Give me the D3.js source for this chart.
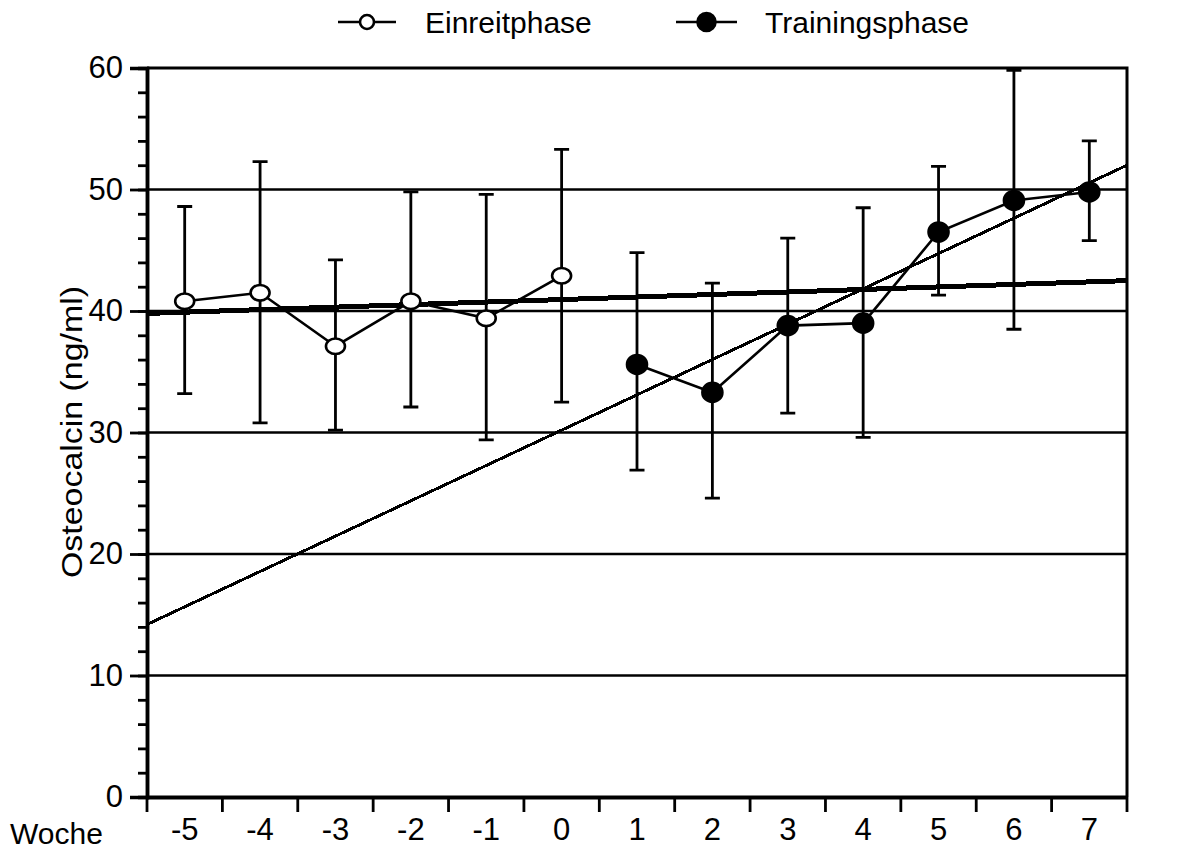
<!DOCTYPE html>
<html>
<head>
<meta charset="utf-8">
<script src="https://cdn.jsdelivr.net/npm/d3@7"></script>
<style>
body{margin:0;background:#fff;}
svg{font-family:"Liberation Sans",Arial,sans-serif;}
</style>
</head>
<body>
<svg id="chart"></svg>
<script>
// weeks on the x axis
var weeks = [-5,-4,-3,-2,-1,0,1,2,3,4,5,6,7]

// Einreitphase (weeks -5..0)
var einWeeks = [-5,-4,-3,-2,-1,0]
var einMean  = [40.8,41.5,37.1,40.8,39.4,42.9]
var einHigh  = [48.6,52.3,44.2,49.8,49.6,53.3]
var einLow   = [33.2,30.8,30.2,32.1,29.4,32.5]

// Trainingsphase (weeks 1..7)
var trWeeks = [1,2,3,4,5,6,7]
var trMean  = [35.6,33.3,38.8,39.0,46.5,49.1,49.8]
var trHigh  = [44.8,42.3,46.0,48.5,51.9,59.8,54.0]
var trLow   = [26.9,24.6,31.6,29.6,41.3,38.5,45.8]

// regression lines, end points (week, value)
var trendSteep = [[-5.5,14.2],[7.5,52.0]]
var trendFlat  = [[-5.5,39.8],[7.5,42.5]]

var yTicks = [0,10,20,30,40,50,60]
var gridValues = [10,20,30,40,50]

var screen = {width:1188,height:850}
var margins = {left:147,right:61,top:68,bottom:53}
var graph = {
    width:screen.width-margins.left-margins.right,
    height:screen.height-margins.top-margins.bottom
}

var svg = d3.select("#chart")
    .attr("width",screen.width)
    .attr("height",screen.height)

var xScale = d3.scaleBand()
    .domain(weeks)
    .range([0,graph.width])
    .padding(0)

var xLin = d3.scaleLinear()
    .domain([-5.5,7.5])
    .range([0,graph.width])

var yScale = d3.scaleLinear()
    .domain([0,60])
    .range([graph.height,0])

var target = svg.append("g")
    .attr("transform","translate("+margins.left+","+margins.top+")")

// grid lines
target.selectAll(".grid")
    .data(gridValues)
    .enter()
    .append("line")
    .attr("x1",0)
    .attr("x2",graph.width)
    .attr("y1",function(d){return yScale(d)})
    .attr("y2",function(d){return yScale(d)})
    .attr("stroke","#000")
    .attr("stroke-width",2.5)

// frame top + right
target.append("path")
    .attr("d","M0,"+yScale(60)+"H"+graph.width+"V"+graph.height)
    .attr("fill","none")
    .attr("stroke","#000")
    .attr("stroke-width",3)

// regression lines
var trendLine = d3.line()
    .x(function(d){return xLin(d[0])})
    .y(function(d){return yScale(d[1])})

target.append("path")
    .attr("d",trendLine(trendSteep))
    .attr("fill","none")
    .attr("stroke","#000")
    .attr("stroke-width",3)
    .attr("shape-rendering","crispEdges")

target.append("path")
    .attr("d",trendLine(trendFlat))
    .attr("fill","none")
    .attr("stroke","#000")
    .attr("stroke-width",5)
    .attr("shape-rendering","crispEdges")

var drawSeries = function(ws,mean,high,low,fill,rx,ry){
    var pts = ws.map(function(w,i){
        return {x:xScale(w)+xScale.bandwidth()/2,m:mean[i],h:high[i],l:low[i]}
    })
    var g = target.append("g")
    // error bars
    g.selectAll(".err")
        .data(pts)
        .enter()
        .append("path")
        .attr("d",function(p){
            return "M"+p.x+","+yScale(p.h)+"V"+yScale(p.l)+
                "M"+(p.x-7.5)+","+yScale(p.h)+"H"+(p.x+7.5)+
                "M"+(p.x-7.5)+","+yScale(p.l)+"H"+(p.x+7.5)
        })
        .attr("stroke","#000")
        .attr("stroke-width",2.8)
        .attr("fill","none")
    g.append("path")
        .attr("d",d3.line().x(function(p){return p.x}).y(function(p){return yScale(p.m)})(pts))
        .attr("stroke","#000")
        .attr("stroke-width",2.6)
        .attr("fill","none")
    g.selectAll("ellipse")
        .data(pts)
        .enter()
        .append("ellipse")
        .attr("cx",function(p){return p.x})
        .attr("cy",function(p){return yScale(p.m)})
        .attr("rx",rx)
        .attr("ry",ry)
        .attr("fill",fill)
        .attr("stroke","#000")
        .attr("stroke-width",2.6)
}

drawSeries(einWeeks,einMean,einHigh,einLow,"#fff",9.5,7.8)
drawSeries(trWeeks,trMean,trHigh,trLow,"#000",10,9.5)

// y axis: minor + major ticks
var yMinor = d3.axisLeft(yScale)
    .tickValues(d3.range(0,61,2))
    .tickSize(9)
    .tickFormat("")
var yMajor = d3.axisLeft(yScale)
    .tickValues(yTicks)
    .tickSize(17)
    .tickPadding(7)

var yAx = svg.append("g")
    .attr("transform","translate("+margins.left+","+margins.top+")")
yAx.append("g").call(yMinor)
yAx.append("g").call(yMajor)
yAx.selectAll(".domain").attr("stroke-width",3.5)
yAx.selectAll(".tick line").attr("stroke-width",2.8)
yAx.selectAll("text").attr("font-size",31).attr("fill","#000")
    .attr("font-family","Liberation Sans, Arial, sans-serif")

// x axis: labels at band centres, ticks at band edges
var xAxis = d3.axisBottom(xScale)
    .tickSize(0)
    .tickPadding(21)
    .tickFormat(function(d){return d})
var xAx = svg.append("g")
    .attr("transform","translate("+margins.left+","+(margins.top+graph.height)+")")
    .call(xAxis)
xAx.select(".domain").attr("stroke-width",4)
xAx.selectAll("text").attr("font-size",31).attr("fill","#000")
    .attr("font-family","Liberation Sans, Arial, sans-serif")

var edges = weeks.map(function(w){return xScale(w)}).concat([graph.width])
xAx.selectAll(".edge")
    .data(edges)
    .enter()
    .append("line")
    .attr("x1",function(d){return d})
    .attr("x2",function(d){return d})
    .attr("y1",0)
    .attr("y2",15)
    .attr("stroke","#000")
    .attr("stroke-width",2.8)

// labels
svg.append("text")
    .text("Woche")
    .attr("x",10)
    .attr("y",844)
    .attr("font-size",30)

svg.append("g")
    .attr("transform","translate(82,432)")
    .append("text")
    .text("Osteocalcin (ng/ml)")
    .attr("text-anchor","middle")
    .attr("transform","rotate(-90)")
    .attr("font-size",29)
    .attr("textLength",292)
    .attr("lengthAdjust","spacingAndGlyphs")

// legend
var legendItems = [
    {name:"Einreitphase",fill:"#fff",x:338,len:58,r:7,tx:87},
    {name:"Trainingsphase",fill:"#000",x:676,len:61,r:9,tx:89}
]
var legend = svg.append("g")
var entries = legend.selectAll("g")
    .data(legendItems)
    .enter()
    .append("g")
    .attr("transform",function(d){return "translate("+d.x+",22)"})
entries.append("line")
    .attr("x1",0).attr("x2",function(d){return d.len})
    .attr("y1",0).attr("y2",0)
    .attr("stroke","#000").attr("stroke-width",2.6)
entries.append("circle")
    .attr("cx",function(d){return d.len/2})
    .attr("cy",0)
    .attr("r",function(d){return d.r})
    .attr("fill",function(d){return d.fill})
    .attr("stroke","#000").attr("stroke-width",2.6)
entries.append("text")
    .text(function(d){return d.name})
    .attr("x",function(d){return d.tx})
    .attr("y",11)
    .attr("font-size",30)
</script>
</body>
</html>
